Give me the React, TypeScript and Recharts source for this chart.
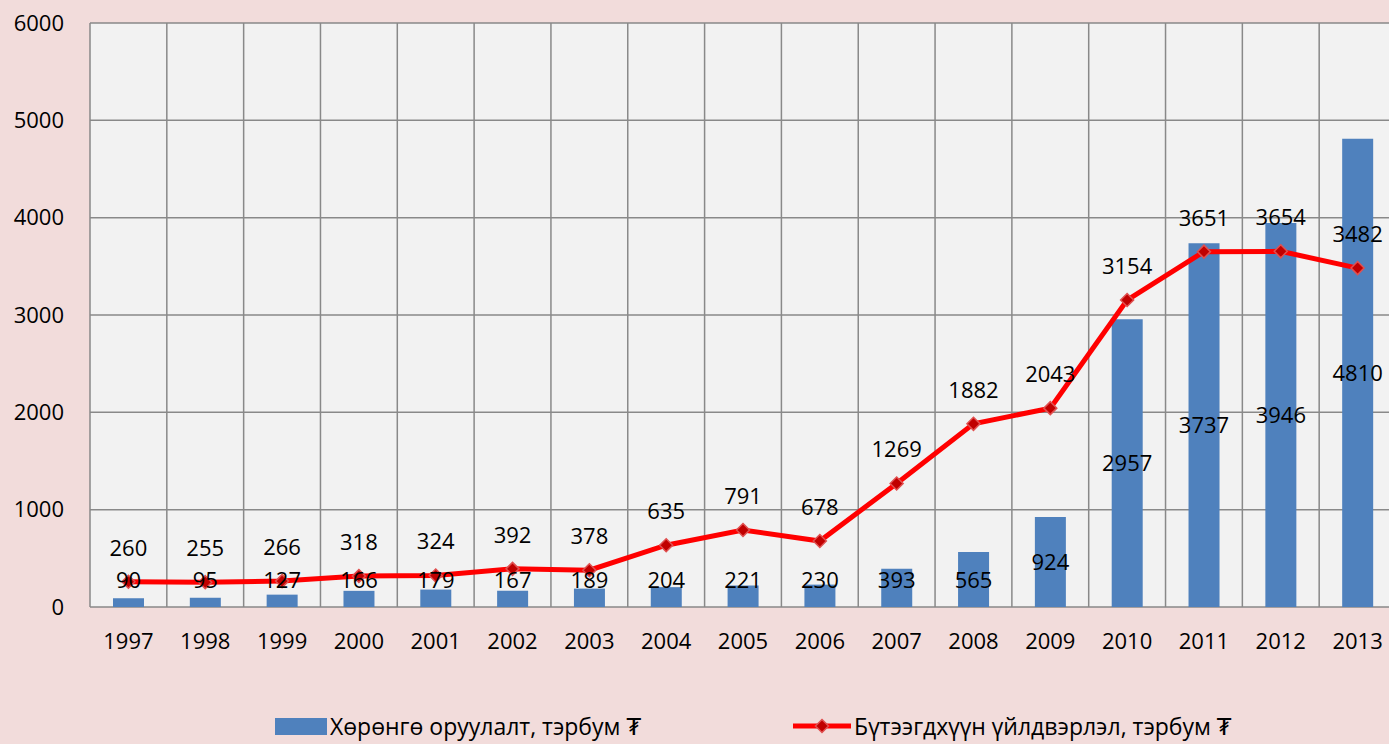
import React from 'react';
import {
  ComposedChart,
  Bar,
  Line,
  XAxis,
  YAxis,
  CartesianGrid,
  Legend,
  LabelList,
} from 'recharts';

const years = ['1997', '1998', '1999', '2000', '2001', '2002', '2003', '2004', '2005', '2006', '2007', '2008', '2009', '2010', '2011', '2012', '2013'];
const investment = [90, 95, 127, 166, 179, 167, 189, 204, 221, 230, 393, 565, 924, 2957, 3737, 3946, 4810];
const production = [260, 255, 266, 318, 324, 392, 378, 635, 791, 678, 1269, 1882, 2043, 3154, 3651, 3654, 3482];
const yTicks = [0, 1000, 2000, 3000, 4000, 5000, 6000];

const barName = 'Хөрөнгө оруулалт, тэрбум ₮';
const lineName = 'Бүтээгдхүүн үйлдвэрлэл, тэрбум ₮';

const FONT = '"Open Sans", "DejaVu Sans", sans-serif';
const BAR_COLOR = '#4F81BD';
const LINE_COLOR = '#FF0000';
const MARKER_COLOR = '#C00000';

const data = years.map((year, i) => ({
  year,
  investment: investment[i],
  production: production[i],
}));

// bar labels sit in the middle of the bar, but never lower than just above the axis
const BarValueLabel = (props: any) => {
  const { x, y, width, height, value } = props;
  const bottom = y + height;
  const cy = Math.min(y + height / 2, bottom - 27);
  return (
    <text x={x + width / 2} y={cy + 8} textAnchor="middle" fontSize={22} fontFamily={FONT} fill="#000">
      {value}
    </text>
  );
};

const LineValueLabel = (props: any) => {
  const { x, y, value } = props;
  return (
    <text x={x} y={y - 34 + 8} textAnchor="middle" fontSize={22} fontFamily={FONT} fill="#000">
      {value}
    </text>
  );
};

const Diamond = (props: any) => {
  const { cx, cy } = props;
  if (cx == null || cy == null) return null;
  const r = 6.5;
  return (
    <polygon
      points={`${cx},${cy - r} ${cx + r},${cy} ${cx},${cy + r} ${cx - r},${cy}`}
      fill={MARKER_COLOR}
      stroke="#E05050"
      strokeWidth={1.5}
    />
  );
};

const LegendContent = () => (
  <div
    style={{
      display: 'flex',
      alignItems: 'center',
      fontFamily: FONT,
      fontSize: 23,
      color: '#000',
      lineHeight: '26px',
    }}
  >
    <div style={{ display: 'flex', alignItems: 'center', marginLeft: 275 }}>
      <span style={{ display: 'inline-block', width: 52, height: 17, background: BAR_COLOR, marginRight: 3 }} />
      <span>{barName}</span>
    </div>
    <div style={{ display: 'flex', alignItems: 'center', marginLeft: 152 }}>
      <svg width={58} height={18} style={{ marginRight: 3 }}>
        <line x1={0} y1={9} x2={58} y2={9} stroke={LINE_COLOR} strokeWidth={5} />
        <polygon points="29,2.5 35.5,9 29,15.5 22.5,9" fill={MARKER_COLOR} stroke="#E05050" strokeWidth={1.5} />
      </svg>
      <span>{lineName}</span>
    </div>
  </div>
);

export default function App() {
  return (
    <div
      style={{
        position: 'fixed',
        left: 0,
        top: 0,
        width: 1389,
        height: 744,
        overflow: 'hidden',
        background: '#F2DCDB',
      }}
    >
      <ComposedChart
        width={1400}
        height={744}
        data={data}
        margin={{ top: 23, right: 4, left: 0, bottom: 77 }}
        barCategoryGap="30%"
      >
        <CartesianGrid
          fill="#F2F2F2"
          stroke="#898989"
          strokeWidth={1.5}
          verticalCoordinatesGenerator={({ offset }: any) => {
            const step = offset.width / years.length;
            return years.map((_, i) => offset.left + i * step).concat(offset.left + offset.width);
          }}
        />
        <XAxis
          dataKey="year"
          axisLine={false}
          tickLine={false}
          tickSize={0}
          tickMargin={26}
          height={60}
          interval={0}
          tick={{ fontSize: 22, fontFamily: FONT, fill: '#000' }}
        />
        <YAxis
          domain={[0, 6000]}
          ticks={yTicks}
          axisLine={false}
          tickLine={false}
          tickSize={0}
          tickMargin={26}
          width={90}
          tick={{ fontSize: 22, fontFamily: FONT, fill: '#000' }}
        />
        <Legend
          layout="horizontal"
          verticalAlign="middle"
          align="center"
          wrapperStyle={{ top: 713, left: 0, width: 1389 }}
          content={LegendContent}
        />
        <Bar dataKey="investment" name={barName} fill={BAR_COLOR} barSize={31} isAnimationActive={false}>
          <LabelList dataKey="investment" content={BarValueLabel} />
        </Bar>
        <Line
          dataKey="production"
          name={lineName}
          type="linear"
          stroke={LINE_COLOR}
          strokeWidth={5}
          dot={Diamond}
          activeDot={false}
          isAnimationActive={false}
        >
          <LabelList dataKey="production" content={LineValueLabel} />
        </Line>
      </ComposedChart>
    </div>
  );
}
